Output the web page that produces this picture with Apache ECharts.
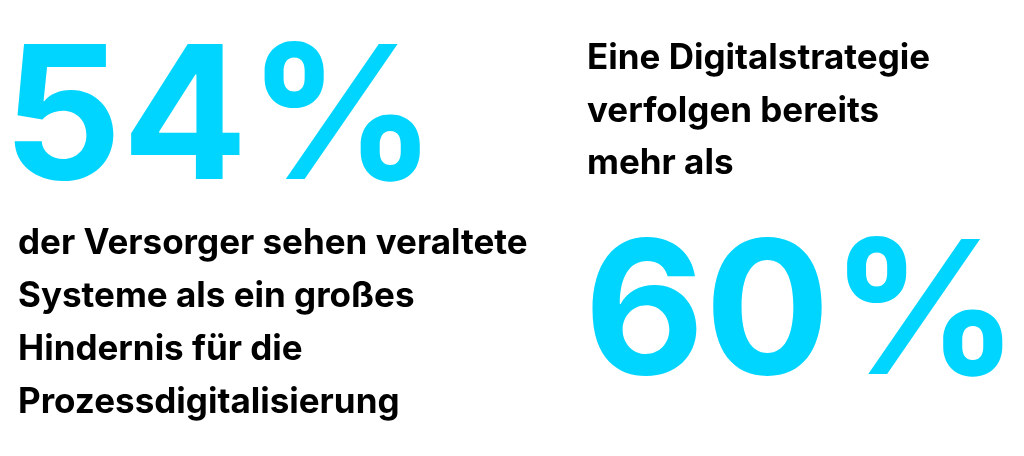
<!DOCTYPE html>
<html><head><meta charset="utf-8">
<script src="https://cdn.jsdelivr.net/npm/echarts@6/dist/echarts.min.js"></script>
<style>html,body{margin:0;padding:0;background:#fff}#c{width:1024px;height:456px}</style>
</head><body><div id="c"></div>
<script>
const values = [54, 60];
const leftLines = ["der Versorger sehen veraltete","Systeme als ein großes","Hindernis für die","Prozessdigitalisierung"];
const rightLines = ["Eine Digitalstrategie","verfolgen bereits","mehr als"];
const cyan = '#00D5FF';
const font = 'Inter';
const chart = echarts.init(document.getElementById('c'));
const g = [];
g.push({type:'text', left:3, top:30, style:{text: values[0]+'%', fill:cyan, font:'bold 186px '+font}});
g.push({type:'text', left:584, top:225, style:{text: values[1]+'%', fill:cyan, font:'bold 186px '+font}});
leftLines.forEach((t,i)=>g.push({type:'text', left:18, top:226+i*53, style:{text:t, fill:'#000', font:'bold 35px '+font}}));
rightLines.forEach((t,i)=>g.push({type:'text', left:587, top:41+i*52.5, style:{text:t, fill:'#000', font:'bold 35px '+font}}));
chart.setOption({animation:false, graphic:g});
</script></body></html>
